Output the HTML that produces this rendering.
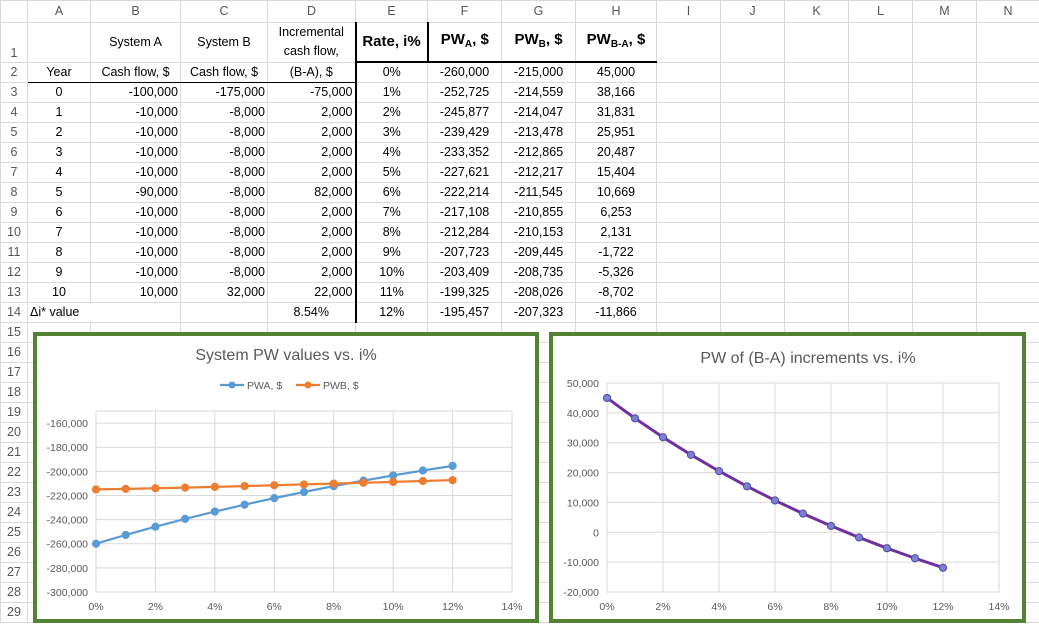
<!DOCTYPE html>
<html><head><meta charset="utf-8"><style>
html,body{margin:0;padding:0;width:1039px;height:629px;overflow:hidden;background:#fff;font-family:"Liberation Sans",sans-serif}
table{border-collapse:collapse;table-layout:fixed;position:absolute;left:0;top:0;width:1039px}
td{border:1px solid #d9d9d9;height:19px;padding:0 2px;font-size:12.5px;color:#000;white-space:nowrap;overflow:visible;text-align:center;line-height:19px}
tr.hdr td{background:#fff;color:#555;height:21px;font-size:12.5px}
td.rn{color:#555;text-align:center;padding:0}
td.r{text-align:right}
td.l{text-align:left;overflow:visible}
tr.r1 td{height:38px;line-height:18px}
td.big{font-weight:bold;font-size:15px}
td.big sub{font-size:10px;vertical-align:-3px}
#charts{position:absolute;left:0;top:0}
</style></head><body>
<table id="sheet">
<colgroup><col style="width:27px"><col style="width:63px"><col style="width:90px"><col style="width:87px"><col style="width:88px"><col style="width:72px"><col style="width:74px"><col style="width:74px"><col style="width:81px"><col style="width:64px"><col style="width:64px"><col style="width:64px"><col style="width:64px"><col style="width:64px"><col style="width:63px"></colgroup>
<tbody id="tb">
<tr class="hdr"><td></td><td>A</td><td>B</td><td>C</td><td>D</td><td>E</td><td>F</td><td>G</td><td>H</td><td>I</td><td>J</td><td>K</td><td>L</td><td>M</td><td>N</td></tr>
<tr class="r1"><td class="rn" style="vertical-align:bottom">1</td><td></td><td>System A</td><td>System B</td><td style="vertical-align:top;line-height:19px">Incremental<br>cash flow,</td><td class="big" style="border-right:2px solid #000;border-left:2px solid #000;border-bottom:2px solid #000">Rate, i%</td><td class="big" style="border-bottom:2px solid #000">PW<sub>A</sub>, $</td><td class="big" style="border-bottom:2px solid #000">PW<sub>B</sub>, $</td><td class="big" style="border-bottom:2px solid #000">PW<sub>B-A</sub>, $</td><td></td><td></td><td></td><td></td><td></td><td></td></tr>
</tbody></table>
<svg id="charts" width="1039" height="629"></svg>
<script>
const years=["Year","0","1","2","3","4","5","6","7","8","9","10","Δi* value"];
const cfA=["Cash flow, $","-100,000","-10,000","-10,000","-10,000","-10,000","-90,000","-10,000","-10,000","-10,000","-10,000","10,000",""];
const cfB=["Cash flow, $","-175,000","-8,000","-8,000","-8,000","-8,000","-8,000","-8,000","-8,000","-8,000","-8,000","32,000",""];
const cfD=["(B-A), $","-75,000","2,000","2,000","2,000","2,000","82,000","2,000","2,000","2,000","2,000","22,000","8.54%"];
const rates=[0,1,2,3,4,5,6,7,8,9,10,11,12];
const pwA=[-260000,-252725,-245877,-239429,-233352,-227621,-222214,-217108,-212284,-207723,-203409,-199325,-195457];
const pwB=[-215000,-214559,-214047,-213478,-212865,-212217,-211545,-210855,-210153,-209445,-208735,-208026,-207323];
const pwBA=[45000,38166,31831,25951,20487,15404,10669,6253,2131,-1722,-5326,-8702,-11866];
const leftTicks=[-160000,-180000,-200000,-220000,-240000,-260000,-280000,-300000];
const rightTicks=[50000,40000,30000,20000,10000,0,-10000,-20000];
const xTicks=[0,2,4,6,8,10,12,14];
const fmt=v=>v.toLocaleString('en-US');
const tb=document.getElementById('tb');
for(let r=2;r<=29;r++){
  const tr=document.createElement('tr');
  
  
  const i=r-2;
  const cells=[];
  cells.push([String(r),'rn']);
  if(i<13){
    cells.push([years[i],i==12?'l':'']);
    cells.push([cfA[i],i==0?'':'r']);
    cells.push([cfB[i],i==0?'':'r']);
    cells.push([cfD[i],(i==0||i==12)?'':'r']);
    cells.push([rates[i]+'%','']);
    cells.push([fmt(pwA[i]),'']);
    cells.push([fmt(pwB[i]),'']);
    cells.push([fmt(pwBA[i]),'']);
  } else { for(let k=0;k<8;k++) cells.push(['','']); }
  for(let k=0;k<6;k++) cells.push(['','']);
  cells.forEach((c,k)=>{
    const td=document.createElement('td');
    td.textContent=c[0];
    if(c[1]) td.className=c[1];
    
    
    if(i==0&&k>=1&&k<=4) td.style.borderBottom='1px solid #000';
    if(i<13&&k==4) td.style.borderRight='2px solid #000';
    if(i==12&&k==1) td.style.borderRight='1px solid transparent';
    tr.appendChild(td);
  });
  tb.appendChild(tr);
}
const NS='http://www.w3.org/2000/svg';
const svg=document.getElementById('charts');
function mk(tag,attrs,parent){const e=document.createElementNS(NS,tag);for(const k in attrs)e.setAttribute(k,attrs[k]);(parent||svg).appendChild(e);return e;}
function txt(s,x,y,size,anchor,parent){const t=mk('text',{x:x,y:y,'font-size':size,'text-anchor':anchor,fill:'#595959','font-family':'Liberation Sans, sans-serif'},parent);t.textContent=s;return t;}
function chart(o){
  const g=mk('g',{});
  
  
  const fr=mk('rect',{x:o.fx,y:o.fy,width:o.fw,height:o.fh,fill:'#fff',stroke:'#548235','stroke-width':4},g);
  
  
  const sx=v=>o.x0+(v-0)/(14-0)*(o.x1-o.x0);
  const sy=v=>o.y1-(v-o.ymin)/(o.ymax-o.ymin)*(o.y1-o.y0);
  const t=txt(o.title,o.tx,o.ty,16,'middle',g);
  
  
  mk('rect',{x:o.x0,y:o.y0,width:o.x1-o.x0,height:o.y1-o.y0,fill:'none',stroke:'#d9d9d9'},g);
  o.yt.forEach(v=>{
    mk('line',{x1:o.x0,x2:o.x1,y1:sy(v),y2:sy(v),stroke:'#d9d9d9'},g);
    const l=txt(fmt(v),o.x0-8,sy(v)+4,10.5,'end',g);
    
    
  });
  xTicks.forEach(v=>{
    mk('line',{x1:sx(v),x2:sx(v),y1:o.y0,y2:o.y1,stroke:'#d9d9d9'},g);
    const l=txt(v+'%',sx(v),o.y1+18,10.5,'middle',g);
    
    
  });
  o.series.forEach(s=>{
    const pts=rates.map((r,i)=>sx(r)+','+sy(s.data[i])).join(' ');
    const pl=mk('polyline',{points:pts,fill:'none',stroke:s.color,'stroke-width':s.w||2.25},g);
    
    
    rates.forEach((r,i)=>{
      const c=mk('circle',{cx:sx(r),cy:sy(s.data[i]),r:3.6,fill:s.mfill||s.color,stroke:s.mstroke||s.color,'stroke-width':1},g);
      
      
    });
  });
  return g;
}
const g1=chart({name:'system-pw-chart',fx:35,fy:334,fw:502,fh:287,title:'System PW values vs. i%',tx:286,ty:360,
  x0:96,x1:512,y0:411,y1:592,ymin:-300000,ymax:-150000,yt:leftTicks,
  series:[{name:'pwa',color:'#5b9bd5',data:pwA},{name:'pwb',color:'#ed7d31',data:pwB}]});
const g2=chart({name:'incremental-pw-chart',fx:551,fy:334,fw:473,fh:287,title:'PW of (B-A) increments vs. i%',tx:808,ty:363,
  x0:607,x1:999,y0:383,y1:592,ymin:-20000,ymax:50000,yt:rightTicks,
  series:[{name:'pwba',color:'#7030a0',w:3,mfill:'#7b7fd6',mstroke:'#4e4ea0',data:pwBA}]});
// legend
[['PWA, $','#5b9bd5',220],['PWB, $','#ed7d31',296]].forEach(l=>{
  const lg=mk('g',{},g1);
  
  
  mk('line',{x1:l[2],x2:l[2]+24,y1:385,y2:385,stroke:l[1],'stroke-width':2.25},lg);
  mk('circle',{cx:l[2]+12,cy:385,r:3.5,fill:l[1]},lg);
  txt(l[0],l[2]+27,389,10.5,'start',lg);
});
</script>
</body></html>
